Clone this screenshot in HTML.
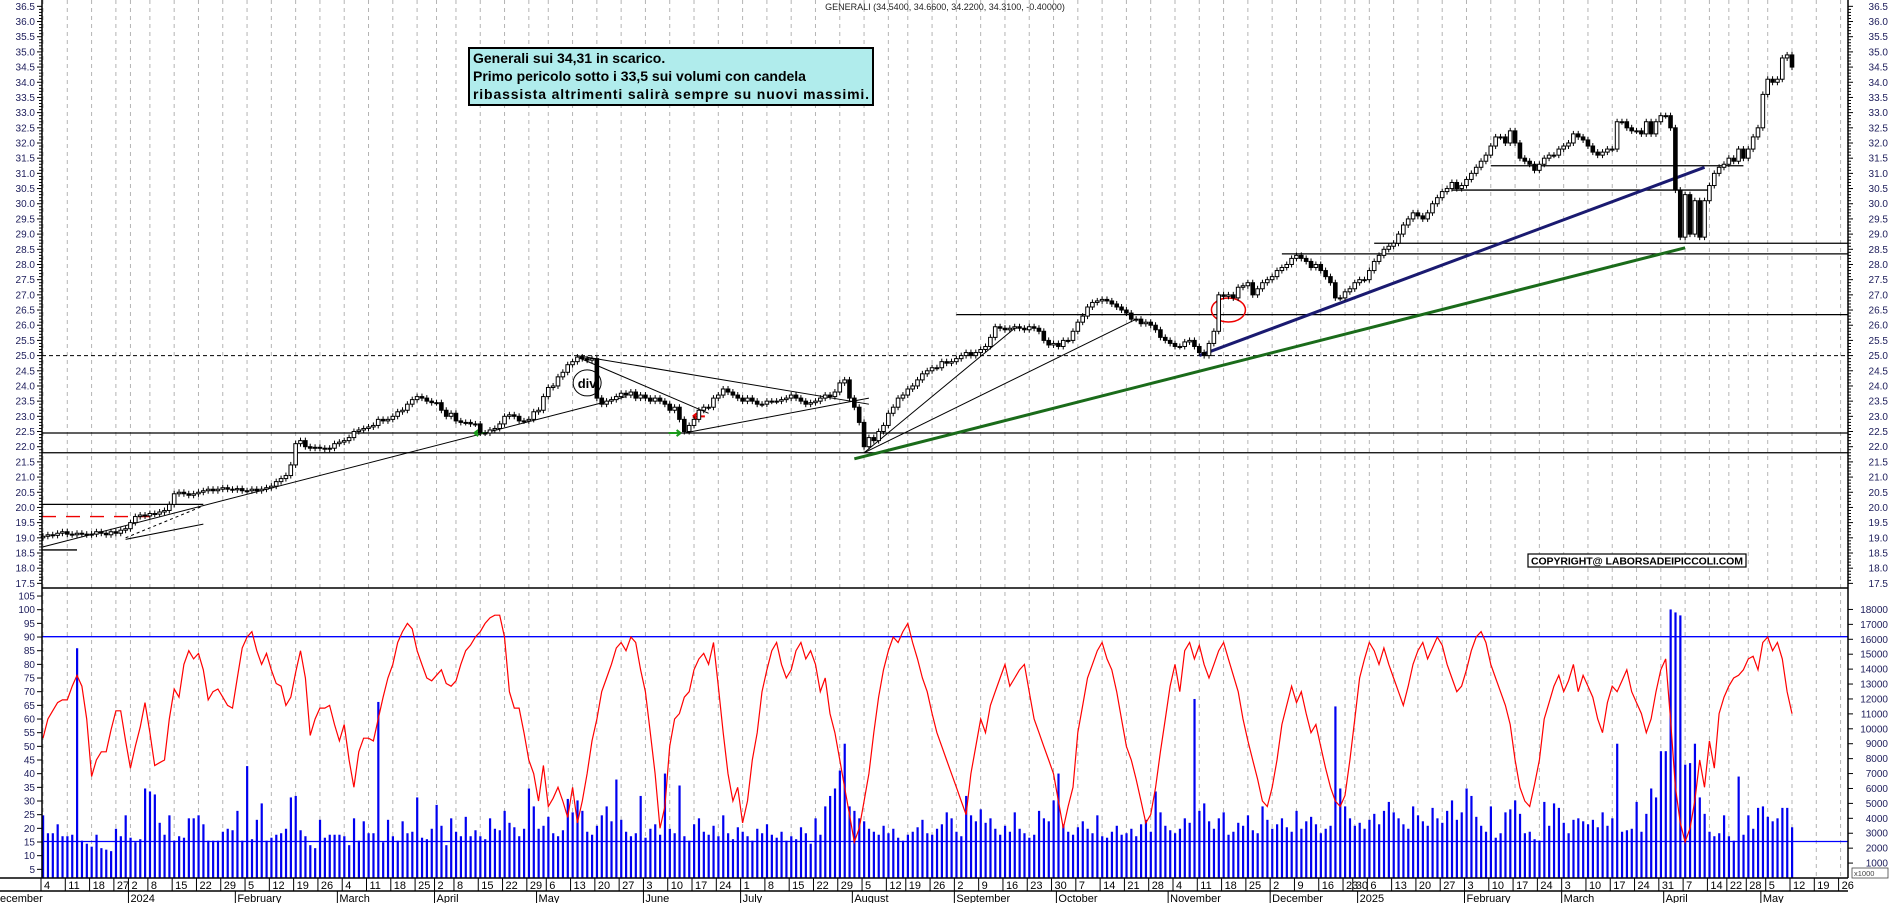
<!DOCTYPE html>
<html><head><meta charset="utf-8"><title>GENERALI chart</title>
<style>
html,body{margin:0;padding:0;background:#fff;}
svg{display:block;font-family:"Liberation Sans",Arial,sans-serif;}
</style></head>
<body>
<svg id="chart" width="1890" height="903" viewBox="0 0 1890 903" xmlns="http://www.w3.org/2000/svg">
<rect x="0" y="0" width="1890" height="903" fill="#fff"/>
<g id="grid"></g>
<g id="levels"></g>
<g id="trend"></g>
<g id="candles"></g>
<g id="vol"></g>
<line x1="42" y1="636.7" x2="1848" y2="636.7" stroke="#00f" stroke-width="1.3"/>
<line x1="42" y1="841.5" x2="1848" y2="841.5" stroke="#00f" stroke-width="1.3"/>
<polyline id="osc" fill="none" stroke="#f00" stroke-width="1.2"/>
<g id="axes"></g>
<text x="945" y="10" font-size="9" text-anchor="middle" fill="#222">GENERALI (34.5400, 34.6600, 34.2200, 34.3100, -0.40000)</text>
<g>
  <rect x="469" y="48" width="404" height="57" fill="#b0ecec" stroke="#000" stroke-width="2"/>
  <text x="473" y="63" font-size="14" font-weight="bold">Generali sui 34,31 in scarico.</text>
  <text x="473" y="81" font-size="14" font-weight="bold">Primo pericolo sotto i 33,5 sui volumi con candela</text>
  <text x="473" y="99" font-size="14" font-weight="bold" textLength="396">ribassista altrimenti salirà sempre su nuovi massimi.</text>
</g>
<g>
  <rect x="1528" y="554" width="218" height="13" fill="#fff" stroke="#000" stroke-width="1.2"/>
  <text x="1531" y="564.5" font-size="10.5" font-weight="bold" textLength="212">COPYRIGHT@ LABORSADEIPICCOLI.COM</text>
</g>
</svg>
<script>
const closes=[19.05,19.1,19.08,19.15,19.2,19.12,19.1,19.15,19.12,19.1,19.12,19.2,19.15,19.1,19.2,19.15,19.25,19.3,
19.5,19.7,19.75,19.72,19.8,19.78,19.85,19.9,20.1,20.45,20.5,20.45,20.4,20.45,20.5,20.55,20.6,20.55,20.6,20.65,20.6,20.58,
20.62,20.55,20.55,20.6,20.55,20.6,20.65,20.7,20.85,20.95,21.05,21.4,22.1,22.2,22.0,21.95,21.98,21.95,21.92,21.95,22.1,
22.15,22.2,22.3,22.5,22.55,22.6,22.65,22.7,22.9,22.85,22.9,23.0,23.15,23.2,23.4,23.55,23.65,23.6,23.5,23.45,
23.45,23.2,23.0,23.1,22.85,22.8,22.8,22.75,22.75,22.45,22.45,22.55,22.6,22.75,23.0,23.05,23.0,22.85,22.85,22.9,23.15,
23.2,23.65,23.95,24.0,24.3,24.45,24.7,24.8,24.95,24.9,24.85,24.9,23.6,23.4,23.5,23.55,23.65,23.76,23.7,23.8,23.6,23.7,
23.6,23.5,23.6,23.5,23.4,23.2,23.3,22.9,22.5,22.7,22.9,23.2,23.3,23.3,23.6,23.7,23.9,23.8,23.7,23.6,
23.5,23.6,23.5,23.4,23.4,23.5,23.5,23.5,23.55,23.6,23.7,23.6,23.5,23.4,23.45,23.5,23.6,23.7,23.65,23.8,24.1,24.2,23.6,
23.3,22.8,22.0,22.3,22.2,22.5,22.7,23.1,23.3,23.6,23.7,23.9,24.0,24.2,24.4,24.5,24.6,24.6,24.8,24.75,24.8,
24.9,25.0,25.1,25.0,25.1,25.2,25.3,25.6,25.95,25.9,25.85,25.9,25.95,25.9,25.85,25.95,25.9,25.8,25.5,25.35,25.4,
25.3,25.5,25.5,25.8,26.1,26.3,26.6,26.75,26.8,26.85,26.8,26.7,26.6,26.5,26.4,26.2,26.2,26.05,26.1,26.0,25.85,25.6,25.5,
25.4,25.3,25.3,25.45,25.5,25.3,25.1,25.0,25.4,25.8,27.0,26.95,27.0,26.9,27.25,27.3,27.4,27.0,27.2,27.4,27.5,
27.6,27.8,27.9,28.0,28.2,28.3,28.2,28.1,27.9,28.0,27.8,27.6,27.4,26.9,26.9,27.1,27.2,27.4,
27.5,27.5,27.8,28.1,28.3,28.5,28.6,28.7,29.0,29.3,29.5,29.7,29.6,29.5,29.7,30.0,30.2,30.4,30.5,30.7,30.5,30.6,
30.8,31.0,31.2,31.4,31.6,31.9,32.2,32.2,32.0,32.4,32.0,31.5,31.4,31.3,31.1,31.3,31.5,31.6,31.6,31.8,
31.9,32.0,32.3,32.2,32.1,31.9,31.7,31.6,31.7,31.8,31.8,32.7,32.7,32.5,32.4,32.4,32.3,32.7,32.3,32.7,32.9,
32.9,32.5,30.45,28.9,30.3,29.0,30.1,28.9,30.1,30.6,31.0,31.2,31.3,31.5,31.4,31.8,31.5,31.8,32.2,32.5,
33.6,34.1,34.0,34.1,34.8,34.9,34.5];
const volumes=[42,30,30,36,28,28,29,154,25,23,21,29,20,19,18,33,28,42,27,24,
26,60,58,56,37,29,42,25,28,27,40,40,42,36,25,25,25,31,33,32,
45,25,75,26,39,50,25,27,29,30,33,54,55,32,28,22,20,39,27,29,
29,29,28,22,40,25,38,30,30,118,24,39,28,25,38,30,31,54,27,26,
33,49,35,22,40,31,28,41,28,32,28,26,40,33,32,45,37,34,28,33,
60,48,33,35,41,30,28,32,53,44,52,45,31,29,35,42,48,38,66,39,
31,28,30,55,27,33,36,29,70,33,30,62,28,25,36,40,31,29,35,28,
42,30,26,34,31,28,25,33,30,36,29,27,31,25,28,26,34,30,23,40,
29,48,55,60,72,90,48,45,40,38,33,31,29,35,30,33,27,25,29,31,
34,39,30,29,33,36,44,40,31,28,55,42,38,46,37,40,33,29,35,31,
44,33,30,27,29,45,40,38,52,70,36,31,29,34,38,33,30,42,28,27,
31,35,29,30,33,28,36,39,31,58,44,35,32,30,33,40,37,120,45,50,
38,33,40,44,29,31,37,35,42,32,30,48,39,33,36,40,34,31,45,33,
38,41,36,30,33,35,115,60,48,40,35,37,33,39,43,36,45,51,44,40,
36,33,48,42,38,35,47,40,37,45,52,39,44,60,55,41,35,31,48,27,
30,44,46,52,43,30,31,26,25,51,35,50,47,37,30,39,40,38,36,39,
34,44,35,40,90,31,32,33,51,31,43,60,54,85,85,180,178,176,76,77,
90,54,43,31,28,30,42,28,25,68,29,42,33,47,48,41,38,40,47,47,
34];
const oscValues=[53,60,63,66,67,67,72,76,72,60,39,45,48,48,56,63,63,52,42,50,
57,66,55,43,44,45,60,71,68,80,85,82,84,78,67,70,71,68,65,64,
75,86,90,92,85,80,84,78,73,72,65,68,77,85,75,54,60,64,64,65,
58,52,58,45,35,48,53,53,52,60,68,75,80,88,92,95,93,85,80,75,
74,76,78,73,72,74,80,85,87,90,92,95,97,98,98,90,70,64,64,55,
45,40,30,43,28,31,35,30,24,35,22,30,40,52,60,70,75,80,86,88,
85,90,88,78,70,55,40,20,28,50,60,62,68,70,78,82,84,80,88,72,
55,40,30,35,22,30,45,55,70,78,85,88,80,75,78,85,88,82,85,80,
70,75,62,55,45,35,25,15,20,30,40,55,68,78,85,90,88,92,95,88,
82,75,70,62,55,50,45,40,35,30,25,40,50,60,55,65,70,75,80,72,
75,78,80,70,60,55,50,45,40,30,20,28,35,55,65,75,80,85,88,82,
78,70,60,50,45,38,30,22,25,35,48,60,72,80,70,85,88,82,87,80,
75,80,85,88,82,76,70,60,52,45,38,30,28,35,45,58,65,72,66,70,
62,55,58,50,42,35,30,28,32,45,60,75,82,88,85,80,86,80,75,70,
65,72,80,85,88,82,86,90,87,80,75,70,72,78,85,90,92,88,80,75,
70,65,58,45,35,30,28,36,45,60,66,72,76,70,74,80,70,76,72,68,
60,55,66,72,70,74,78,70,66,62,55,60,70,78,82,60,35,22,15,20,
30,45,35,52,42,62,68,72,75,76,78,82,83,78,88,90,85,88,82,70,
62];
const priceTicks=[17.5,18,18.5,19,19.5,20,20.5,21,21.5,22,22.5,23,23.5,24,24.5,25,25.5,26,26.5,27,27.5,28,28.5,29,29.5,30,30.5,31,31.5,32,32.5,33,33.5,34,34.5,35,35.5,36,36.5];
const oscTicks=[5,10,15,20,25,30,35,40,45,50,55,60,65,70,75,80,85,90,95,100,105];
const volTicks=[1000,2000,3000,4000,5000,6000,7000,8000,9000,10000,11000,12000,13000,14000,15000,16000,17000,18000];
// horizontal levels: [price, startIndex, endIndex(or -1 = right edge)]
const levelPrices=[25.0,22.45,21.8,20.1,19.7,18.6,26.35,28.35,28.7,30.45,31.25];
const levelStarts=[-1,-1,-1,-1,-1,-1,188,255,274,290,298];
const levelEnds=[999,999,999,33,22,7,999,999,999,343,350];
// trendlines: [i1,p1,i2,p2]
const trendA=[[0,18.7,120,23.65],[17,18.95,33,19.45],[110,25.0,170,23.4],[110,24.95,137,23.1],[132,22.45,170,23.6],[169,21.8,200,25.9],[169,21.8,225,26.2]];
const greenLine=[167,21.6,338,28.55];
const navyLine=[238,25.0,342,31.2];
const monthNames=["January","February","March","April","May","June","July","August","September","October","November","December"];
const holidays=["2023-12-25","2023-12-26","2024-01-01","2024-03-29","2024-04-01","2024-05-01","2024-08-15","2024-12-24","2024-12-25","2024-12-26","2024-12-31","2025-01-01","2025-04-18","2025-04-21","2025-05-01"];

const NS="http://www.w3.org/2000/svg";
const X0=43, STEP=(1792-43)/360;
function xAt(i){return X0+i*STEP;}
function yPrice(p){return 446.7-(p-22)*30.37;}
function yOsc(v){return 883-v*2.733;}
function yVol(v){return 878-v*0.01492;}
function mk(tag,attrs,parent){const e=document.createElementNS(NS,tag);for(const k in attrs)e.setAttribute(k,attrs[k]);parent.appendChild(e);return e;}
function iso(d){return d.toISOString().slice(0,10);}
const N=closes.length, dates=[];
let d=new Date(Date.UTC(2025,4,12));
while(dates.length<N){const wd=d.getUTCDay();if(wd!==0&&wd!==6&&holidays.indexOf(iso(d))<0)dates.unshift(new Date(d));d=new Date(d.getTime()-86400000);}
d=new Date(Date.UTC(2025,4,13));
while(dates.length<N+12){const wd=d.getUTCDay();if(wd!==0&&wd!==6)dates.push(new Date(d));d=new Date(d.getTime()+86400000);}

const grid=document.getElementById('grid'), axes=document.getElementById('axes');
for(let i=0;i<dates.length;i++){
  const x=xAt(i); if(x>1848)break;
  const nw = i===0 || dates[i].getUTCDay()<dates[i-1].getUTCDay();
  const nm = i>0 && dates[i].getUTCMonth()!==dates[i-1].getUTCMonth();
  if(nw){
    const g=mk('line',{x1:x,y1:0,x2:x,y2:878,stroke:'#b4b4b4','stroke-width':1,'stroke-dasharray':'4,4'},grid);
    
    
    const s=mk('line',{x1:x-2,y1:878,x2:x-2,y2:891,stroke:'#000','stroke-width':1},axes);
    
    
    const t=mk('text',{x:x+1,y:889,'font-size':11,fill:'#000'},axes);
    t.textContent=String(dates[i].getUTCDate());
    
    
  }
  if(nm){
    const s=mk('line',{x1:x-2,y1:891,x2:x-2,y2:903,stroke:'#000','stroke-width':1},axes);
    
    
    const m=dates[i].getUTCMonth();
    const t=mk('text',{x:x,y:902,'font-size':11,fill:'#000'},axes);
    t.textContent = m===0 ? String(dates[i].getUTCFullYear()) : monthNames[m];
    
    
  }
}
const lm=mk('text',{x:0,y:902,'font-size':11,fill:'#000'},axes);
lm.textContent='ecember';



// levels
const lg=document.getElementById('levels');
levelPrices.forEach((p,k)=>{
  const x1=levelStarts[k]<0?42:xAt(levelStarts[k]);
  const x2=levelEnds[k]>=999?1848:xAt(levelEnds[k]);
  const attrs={x1:x1,y1:yPrice(p),x2:x2,y2:yPrice(p),stroke:'#000','stroke-width':1.3};
  if(k===0){attrs['stroke-dasharray']='4,3';attrs['stroke-width']=1;}
  if(k===4){attrs.stroke='#e00';attrs['stroke-dasharray']='14,10';}
  const l=mk('line',attrs,lg);
  
  
});
// trendlines
const tg=document.getElementById('trend');
trendA.forEach(t=>{
  const l=mk('line',{x1:xAt(t[0]),y1:yPrice(t[1]),x2:xAt(t[2]),y2:yPrice(t[3]),stroke:'#000','stroke-width':1},tg);
  
  
});
const dl=mk('line',{x1:xAt(17),y1:yPrice(19.0),x2:xAt(33),y2:yPrice(20.05),stroke:'#000','stroke-width':1,'stroke-dasharray':'3,3'},tg);


const gl=mk('line',{x1:xAt(greenLine[0]),y1:yPrice(greenLine[1]),x2:xAt(greenLine[2]),y2:yPrice(greenLine[3]),stroke:'#1a6b1a','stroke-width':3},tg);


const nl=mk('line',{x1:xAt(navyLine[0]),y1:yPrice(navyLine[1]),x2:xAt(navyLine[2]),y2:yPrice(navyLine[3]),stroke:'#1a1a70','stroke-width':3},tg);


const el=mk('ellipse',{cx:xAt(244),cy:yPrice(26.5),rx:17,ry:12,fill:'none',stroke:'#e00','stroke-width':1.5},tg);


const dc=mk('ellipse',{cx:xAt(112),cy:yPrice(24.1),rx:14,ry:13,fill:'none',stroke:'#000','stroke-width':1},tg);


const dt=mk('text',{x:xAt(112),y:yPrice(24.1)+5,'font-size':13,'font-weight':'bold','text-anchor':'middle'},tg);
dt.textContent='div';


[[90,22.45,'#1a9a1a',-1],[130,22.45,'#1a9a1a',1],[135,23.0,'#e00',-1]].forEach(a=>{
  const x=xAt(a[0]),y=yPrice(a[1]),s=a[3];
  const p=mk('path',{d:`M${x-6*s} ${y} L${x+6*s} ${y} M${x+6*s} ${y} L${x+2*s} ${y-3} M${x+6*s} ${y} L${x+2*s} ${y+3}`,stroke:a[2],'stroke-width':2,fill:'none'},tg);
  
  
});

// candles
const cg=document.getElementById('candles');
for(let i=0;i<N;i++){
  const c=closes[i], o=i>0?closes[i-1]:c-0.05;
  const x=xAt(i);
  const top=yPrice(Math.max(o,c)), bot=yPrice(Math.min(o,c));
  const w=mk('line',{x1:x,y1:top-3,x2:x,y2:bot+3,stroke:'#000','stroke-width':1},cg);
  
  
  const b=mk('rect',{x:x-1.8,y:top,width:3.6,height:Math.max(1,bot-top),fill:c>=o?'#fff':'#000',stroke:'#000','stroke-width':1},cg);
  
  
}
// volume
const vg=document.getElementById('vol');
for(let i=0;i<N;i++){
  const x=xAt(i), y=Math.max(590,yVol(volumes[i]*100));
  const r=mk('rect',{x:x-1,y:y,width:2.2,height:878-y,fill:'#0000f0'},vg);
  
  
}
document.getElementById('osc').setAttribute('points',oscValues.map((v,i)=>xAt(i).toFixed(1)+','+yOsc(v).toFixed(1)).join(' '));

[[42,0,42,878],[1848,0,1848,878],[42,588,1848,588],[0,878,1848,878],[0,891,1848,891]].forEach(a=>{
  const l=mk('line',{x1:a[0],y1:a[1],x2:a[2],y2:a[3],stroke:'#000','stroke-width':1.5},axes);
  
  
});
for(let p=17.5;p<=36.6;p+=0.1){
  const y=yPrice(p), major=Math.abs(p*2-Math.round(p*2))<0.01;
  [[42,42-(major?5:3)],[1848,1848+(major?5:3)]].forEach(s=>{
    const t=mk('line',{x1:s[0],y1:y,x2:s[1],y2:y,stroke:'#000','stroke-width':1},axes);
    
    
  });
}
priceTicks.forEach(p=>{
  const y=yPrice(p)+3.5;
  const a=mk('text',{x:35,y:y,'font-size':10,'text-anchor':'end',fill:'#1c1c5a'},axes);
  a.textContent=p.toFixed(1);
  
  
  const b=mk('text',{x:1888,y:y,'font-size':10,'text-anchor':'end',fill:'#1c1c5a'},axes);
  b.textContent=p.toFixed(1);
  
  
});
oscTicks.forEach(v=>{
  const y=yOsc(v);
  const t=mk('line',{x1:42,y1:y,x2:37,y2:y,stroke:'#000','stroke-width':1},axes);
  
  
  const a=mk('text',{x:35,y:y+3.5,'font-size':10,'text-anchor':'end',fill:'#1c1c5a'},axes);
  a.textContent=String(v);
  
  
});
volTicks.forEach(v=>{
  const y=yVol(v);
  const t=mk('line',{x1:1848,y1:y,x2:1853,y2:y,stroke:'#000','stroke-width':1},axes);
  
  
  const a=mk('text',{x:1888,y:y+3.5,'font-size':10,'text-anchor':'end',fill:'#1c1c5a'},axes);
  a.textContent=String(v);
  
  
});
const ux=mk('rect',{x:1852,y:868,width:36,height:10,fill:'#fff',stroke:'#444','stroke-width':0.8},axes);


const ut=mk('text',{x:1854,y:876,'font-size':7.5,fill:'#444'},axes);
ut.textContent='x1000';


</script>
</body></html>
